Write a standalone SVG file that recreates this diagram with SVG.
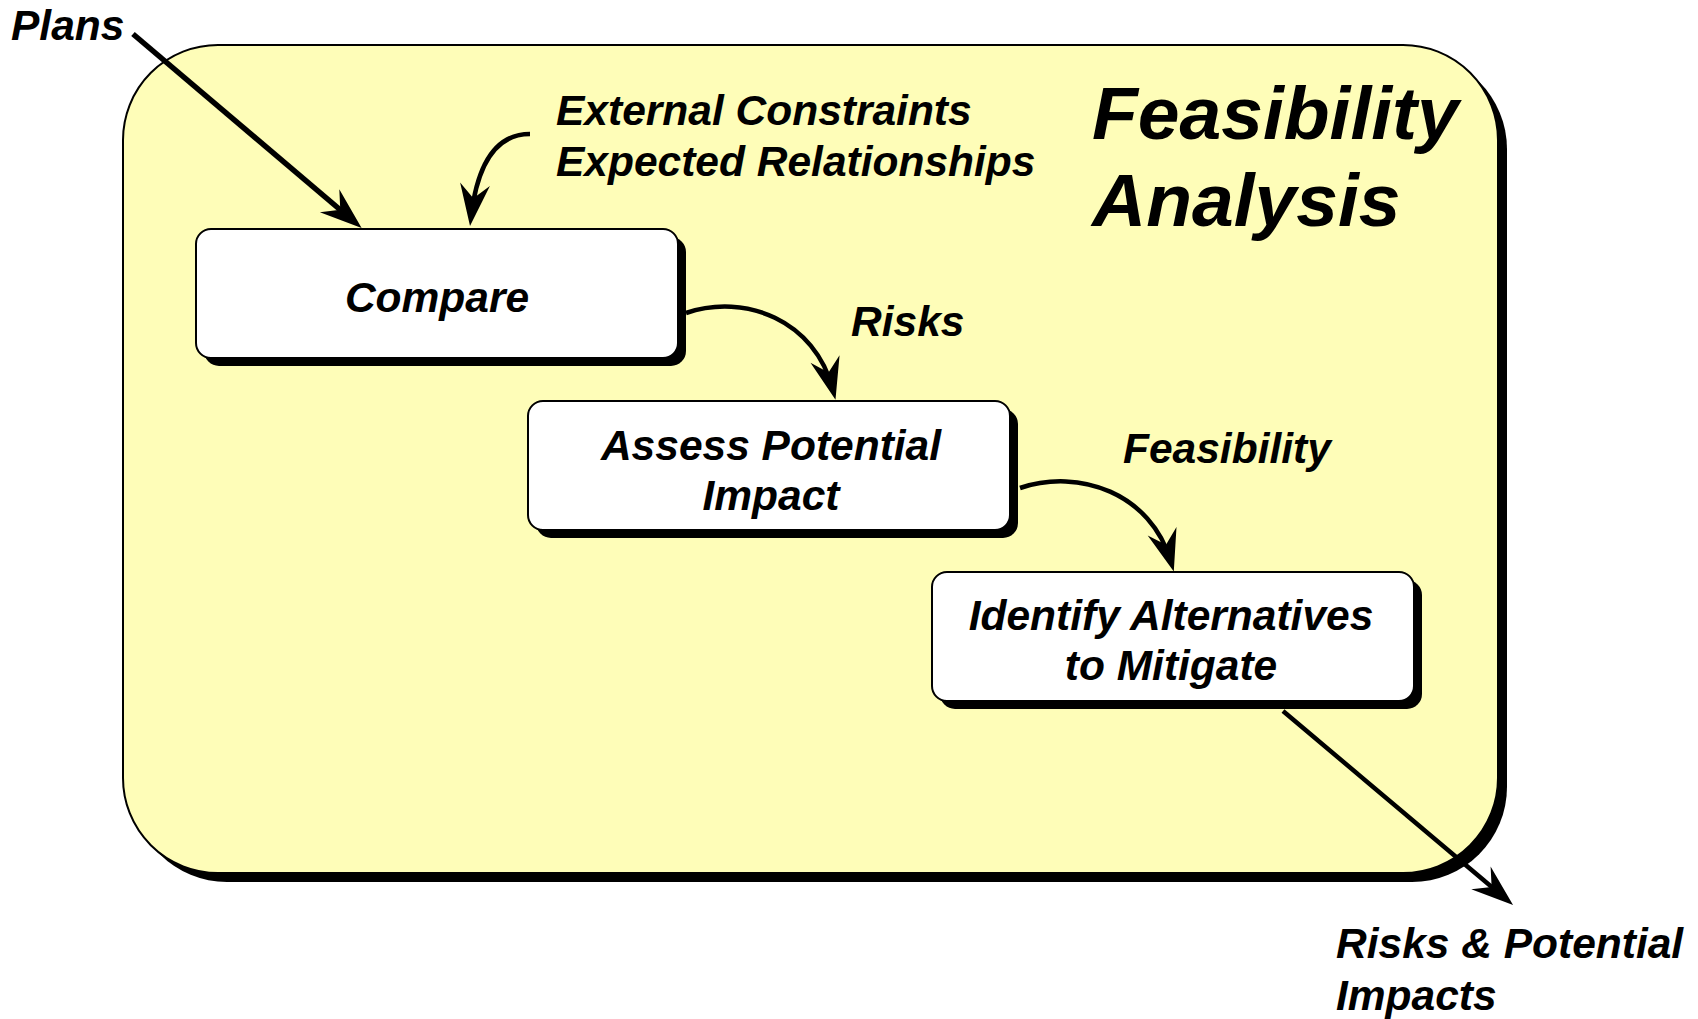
<svg xmlns="http://www.w3.org/2000/svg" width="1698" height="1019" viewBox="0 0 1698 1019">
  <style>
    .lbl { font-family: "Liberation Sans", Arial, sans-serif; font-weight: bold; font-style: italic; font-size: 42.5px; fill: #000; }
    .ctr { text-anchor: middle; }
    .title { font-size: 75px; }
    .shadow { fill: #000; }
    .box { fill: #fff; stroke: #000; stroke-width: 2; }
    .frame { fill: #FEFDB8; stroke: #000; stroke-width: 2; }
    .conn { fill: none; stroke: #000; stroke-width: 4.5; marker-end: url(#arrow); }
    .thick { stroke-width: 5.5; }
  </style>
  <defs>
    <marker id="arrow" markerUnits="userSpaceOnUse" markerWidth="60" markerHeight="40" viewBox="-40 -20 60 40" refX="0" refY="0" orient="auto">
      <path d="M10,0 L-32,-15 L-18,0 L-32,15 Z" fill="#000"/>
    </marker>
  </defs>

  <g id="frame">
    <rect class="shadow" x="132" y="54" width="1375" height="828" rx="95" ry="95"/>
    <rect class="frame" x="123" y="45" width="1375" height="828" rx="95" ry="95"/>
  </g>

  <g id="title">
    <text class="lbl title" x="1092" y="139">Feasibility</text>
    <text class="lbl title" x="1092" y="226">Analysis</text>
  </g>

  <g id="node-compare">
    <rect class="shadow" x="204" y="237" width="482" height="129" rx="15" ry="15"/>
    <rect class="box" x="196" y="229" width="482" height="129" rx="15" ry="15"/>
    <text class="lbl ctr" x="437" y="312">Compare</text>
  </g>

  <g id="node-assess">
    <rect class="shadow" x="536" y="409" width="482" height="129" rx="15" ry="15"/>
    <rect class="box" x="528" y="401" width="482" height="129" rx="15" ry="15"/>
    <text class="lbl ctr" x="771" y="460">Assess Potential</text>
    <text class="lbl ctr" x="771" y="510">Impact</text>
  </g>

  <g id="node-identify">
    <rect class="shadow" x="940" y="580" width="482" height="129" rx="15" ry="15"/>
    <rect class="box" x="932" y="572" width="482" height="129" rx="15" ry="15"/>
    <text class="lbl ctr" x="1171" y="630">Identify Alternatives</text>
    <text class="lbl ctr" x="1171" y="680">to Mitigate</text>
  </g>

  <g id="labels">
    <text class="lbl" x="11" y="40">Plans</text>
    <text class="lbl" x="556" y="125">External Constraints</text>
    <text class="lbl" x="556" y="176">Expected Relationships</text>
    <text class="lbl" x="851" y="336">Risks</text>
    <text class="lbl" x="1123" y="463">Feasibility</text>
    <text class="lbl" x="1336" y="958">Risks &amp; Potential</text>
    <text class="lbl" x="1336" y="1010">Impacts</text>
  </g>

  <g id="connectors">
    <path class="conn thick" d="M133,34 L354,221.5"/>
    <path class="conn" d="M530,134 C490,134 476,176 471.2,216"/>
    <path class="conn" d="M686,313 C745,293 815,320 833,390"/>
    <path class="conn" d="M1020,488 C1079,468 1151,493 1171,562"/>
    <path class="conn" d="M1283,711 L1505.4,898.5"/>
  </g>
</svg>
